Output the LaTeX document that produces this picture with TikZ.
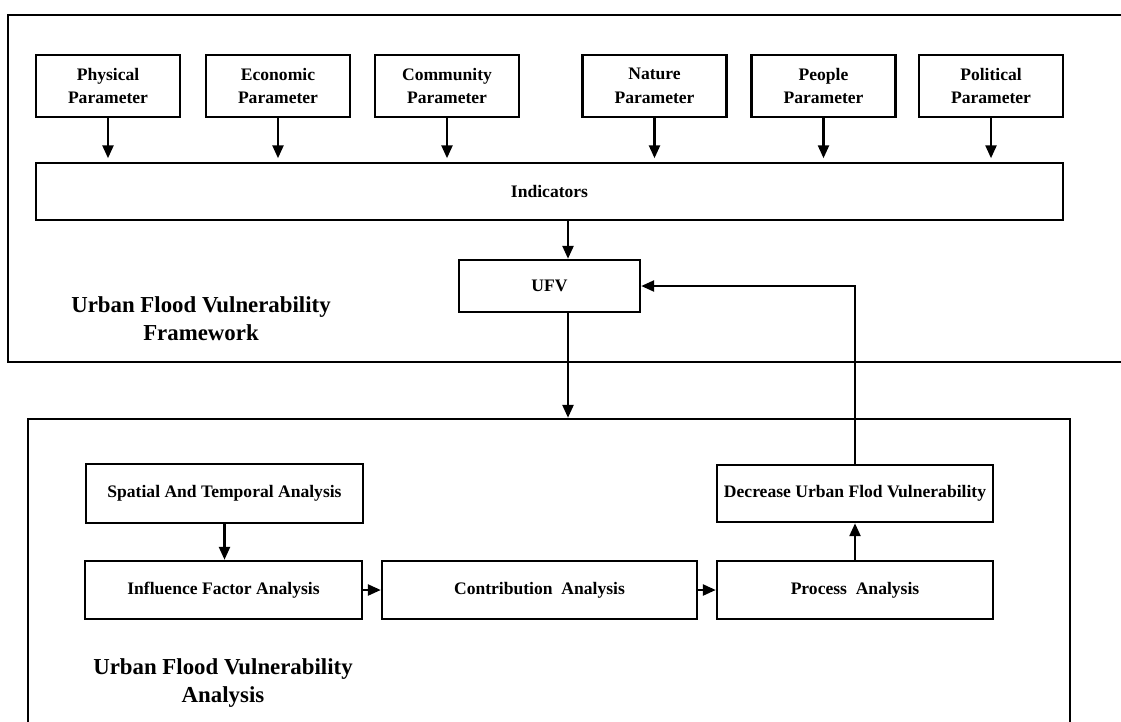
\documentclass[tikz,border=0pt]{standalone}
\usepackage{fontspec}
\setmainfont{Liberation Serif}
\usetikzlibrary{arrows.meta}

\begin{document}
\begin{tikzpicture}[x=0.02cm,y=-0.02cm,
box/.style={draw,line width=1.4pt,align=center,inner sep=2pt,font=\fontsize{10}{13.5}\selectfont\bfseries},
frame/.style={draw,line width=1.4pt,inner sep=0pt},
flow/.style={-{Triangle[length=2.6mm,width=2.2mm]},line width=1.4pt},
label/.style={align=center,font=\fontsize{13}{16}\selectfont\bfseries}]
\useasboundingbox (0,0) rectangle (1121,721);
\clip (0,0) rectangle (1121,721);
% frames
\node[frame,minimum width=22.64cm,minimum height=6.94cm] (framework) at (574,188.5) {};
\node[frame,minimum width=20.84cm,minimum height=6.62cm] (analysis) at (549,584.5) {};
\node[label] (frameworklabel) at (201,319) {Urban Flood Vulnerability\\Framework};
\node[label] (analysislabel) at (223,683) {Urban Flood Vulnerability\\Analysis};
% parameters
\node[box,minimum width=2.88cm,minimum height=1.24cm] (physical) at (108,86) {Physical\\Parameter};
\node[box,minimum width=2.88cm,minimum height=1.24cm] (economic) at (278,86) {Economic\\Parameter};
\node[box,minimum width=2.88cm,minimum height=1.24cm] (community) at (447,86) {Community\\Parameter};
\node[box,minimum width=2.88cm,minimum height=1.24cm] (nature) at (654.5,86) {Nature\\Parameter};
\node[box,minimum width=2.88cm,minimum height=1.24cm] (people) at (823.5,86) {People\\Parameter};
\node[box,minimum width=2.88cm,minimum height=1.24cm] (political) at (991,86) {Political\\Parameter};
\node[box,minimum width=20.54cm,minimum height=1.14cm] (indicators) at (549.5,191.5) {Indicators};
\node[box,minimum width=3.62cm,minimum height=1.04cm] (ufv) at (549.5,286) {UFV};
% analysis
\node[box,minimum width=5.54cm,minimum height=1.18cm] (spatial) at (224.5,493.5) {Spatial And Temporal Analysis};
\node[box,minimum width=5.54cm,minimum height=1.16cm] (influence) at (223.5,590) {Influence Factor Analysis};
\node[box,minimum width=6.3cm,minimum height=1.16cm] (contribution) at (539.5,590) {Contribution~~Analysis};
\node[box,minimum width=5.52cm,minimum height=1.16cm] (process) at (855,590) {Process~~Analysis};
\node[box,minimum width=5.52cm,minimum height=1.14cm] (decrease) at (855,493.5) {Decrease Urban Flod Vulnerability};
\coordinate (tap) at (568,0);
\draw[flow,shorten >=2pt] (physical) -- (physical |- indicators.north);
\draw[flow,shorten >=2pt] (economic) -- (economic |- indicators.north);
\draw[flow,shorten >=2pt] (community) -- (community |- indicators.north);
\draw[flow,shorten >=2pt] (nature) -- (nature |- indicators.north);
\draw[flow,shorten >=2pt] (people) -- (people |- indicators.north);
\draw[flow,shorten >=2pt] (political) -- (political |- indicators.north);
\draw[flow] (indicators.south -| tap) -- (ufv.north -| tap);
\draw[flow] (ufv.south -| tap) -- (analysis.north -| tap);
\draw[flow] (spatial) -- (spatial |- influence.north);
\draw[flow] (influence) -- (contribution);
\draw[flow] (contribution) -- (process);
\draw[flow] (process) -- (decrease);
\draw[flow] (decrease.north) |- (ufv.east);
\end{tikzpicture}
\end{document}
